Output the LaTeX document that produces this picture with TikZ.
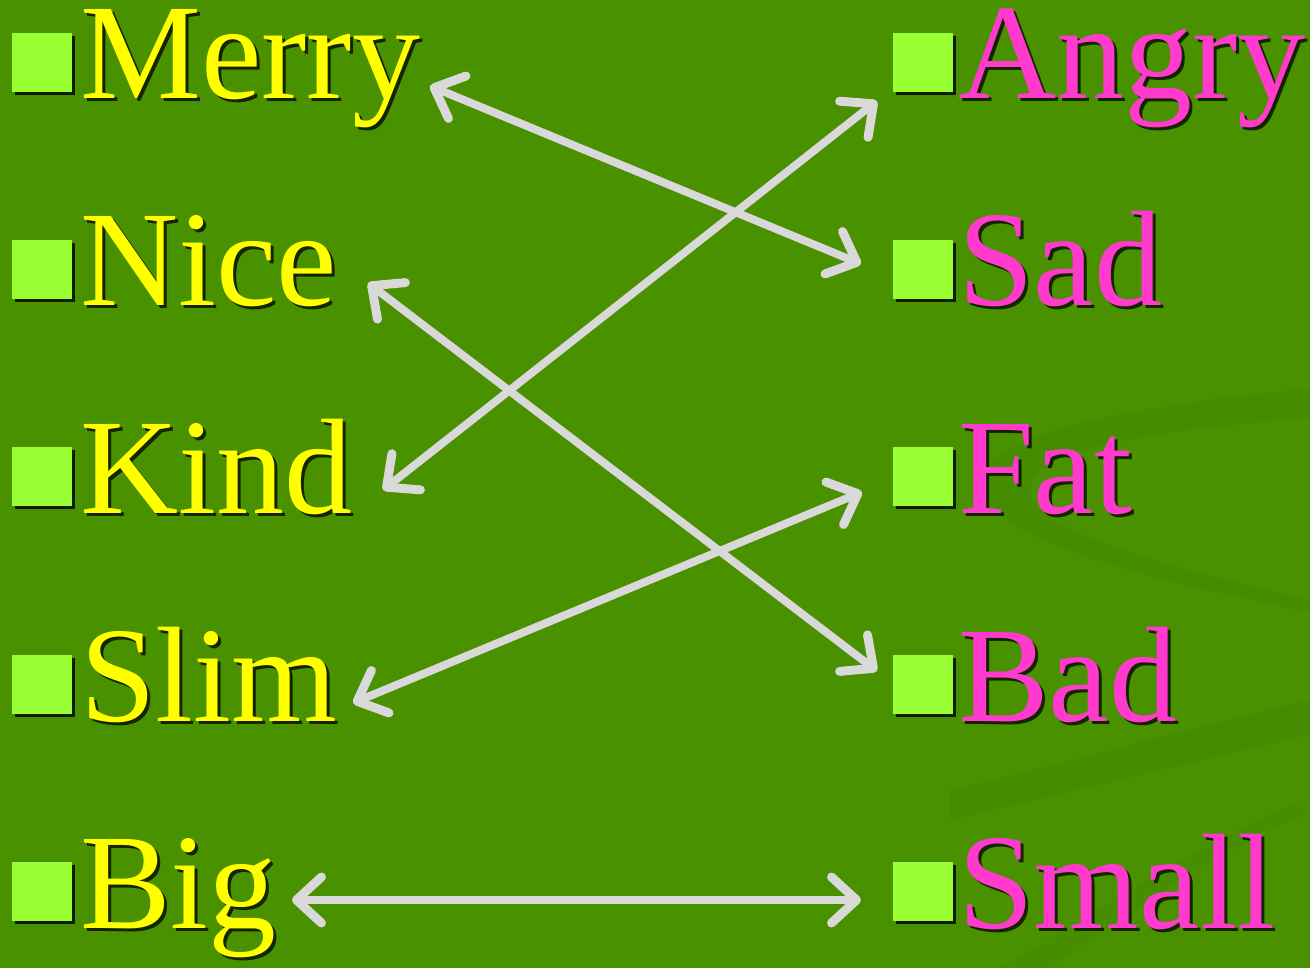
\documentclass[tikz,border=0pt]{standalone}
\usepackage{fontspec}
\setmainfont{Liberation Serif}
\usetikzlibrary{arrows.meta}
\definecolor{bg}{RGB}{74,145,0}
\definecolor{bgdark}{RGB}{66,134,0}
\definecolor{wordyellow}{RGB}{255,255,0}
\definecolor{wordpink}{RGB}{255,58,204}
\definecolor{bulletgreen}{RGB}{153,255,51}
\definecolor{arrowgray}{RGB}{217,217,217}
\tikzset{
  wordbase/.style={anchor=base west, inner sep=0pt, font=\fontsize{136}{136}\selectfont},
  leftword/.style={wordbase, text=wordyellow},
  rightword/.style={wordbase, text=wordpink},
  shadowword/.style={wordbase, text=black, text opacity=0.75},
  bulletsq/.style={fill=bulletgreen},
  bulletshadow/.style={fill=black, fill opacity=0.8},
  barbtip/.tip={Straight Barb[length=25pt,width=46pt,line width=9pt,line cap=round,line join=round]},
  link/.style={draw=arrowgray, line width=8pt, line cap=round, line join=round, barbtip-barbtip},
  linkshadow/.style={draw=black, draw opacity=0.22, line width=8pt, line cap=round, line join=round, barbtip-barbtip}
}
\begin{document}
\begin{tikzpicture}[x=1pt,y=-1pt]
\useasboundingbox (0,0) rectangle (1310,968);
\fill[bg] (0,0) rectangle (1310,968);
% background swooshes
\fill[bgdark, opacity=0.45] (1310,388) .. controls (1100,410) and (960,440) .. (985,495)
  .. controls (1010,545) and (1150,580) .. (1310,612) -- (1310,600)
  .. controls (1160,565) and (1030,530) .. (1030,490)
  .. controls (1030,450) and (1150,430) .. (1310,418) -- cycle;
\fill[bgdark, opacity=0.4] (950,790) .. controls (1080,760) and (1200,725) .. (1310,700)
  -- (1310,735) .. controls (1200,760) and (1080,790) .. (950,820) -- cycle;
\fill[bgdark, opacity=0.35] (1000,968) .. controls (1120,900) and (1220,830) .. (1310,798)
  -- (1310,812) .. controls (1220,850) and (1130,910) .. (1050,968) -- cycle;
% bullets
\foreach \y in {33,240,447,655,862} {
  \fill[bulletshadow] (15,\y+3) rectangle (75,\y+62);
  \fill[bulletsq] (12,\y) rectangle (72,\y+59);
  \fill[bulletshadow] (896,\y+3) rectangle (956,\y+62);
  \fill[bulletsq] (893,\y) rectangle (953,\y+59);
}
% shadows of words
\foreach \t/\y in {Merry/99,Nice/306,Kind/513,Slim/721,Big/928}
  \node[shadowword] at (83,\y+3) {\t};
\foreach \t/\y in {Angry/99,Sad/306,Fat/513,Bad/721,Small/928}
  \node[shadowword] at (961,\y+3) {\t};
% words
\node[leftword] (m1) at (80,99) {Merry};
\node[leftword] (m2) at (80,306) {Nice};
\node[leftword] (m3) at (80,513) {Kind};
\node[leftword] (m4) at (80,721) {Slim};
\node[leftword] (m5) at (80,928) {Big};
\node[rightword] (r1) at (958,99) {Angry};
\node[rightword] (r2) at (958,306) {Sad};
\node[rightword] (r3) at (958,513) {Fat};
\node[rightword] (r4) at (958,721) {Bad};
\node[rightword] (r5) at (958,928) {Small};
% arrow end points
\coordinate (aMerry) at (430,86);
\coordinate (aSad) at (861,264);
\coordinate (aNice) at (368,283);
\coordinate (aBad) at (877,671);
\coordinate (aKind) at (383,490);
\coordinate (aAngry) at (877,101);
\coordinate (aSlim) at (353,703);
\coordinate (aFat) at (862,492);
\coordinate (aBig) at (292,900);
\coordinate (aSmall) at (861,900);
% arrow shadows
\begin{scope}[shift={(2,3)}]
\draw[linkshadow] (aMerry) -- (aSad);
\draw[linkshadow] (aNice) -- (aBad);
\draw[linkshadow] (aKind) -- (aAngry);
\draw[linkshadow] (aSlim) -- (aFat);
\draw[linkshadow] (aBig) -- (aSmall);
\end{scope}
% arrows
\draw[link] (aMerry) -- (aSad);
\draw[link] (aNice) -- (aBad);
\draw[link] (aKind) -- (aAngry);
\draw[link] (aSlim) -- (aFat);
\draw[link] (aBig) -- (aSmall);
\end{tikzpicture}
\end{document}
